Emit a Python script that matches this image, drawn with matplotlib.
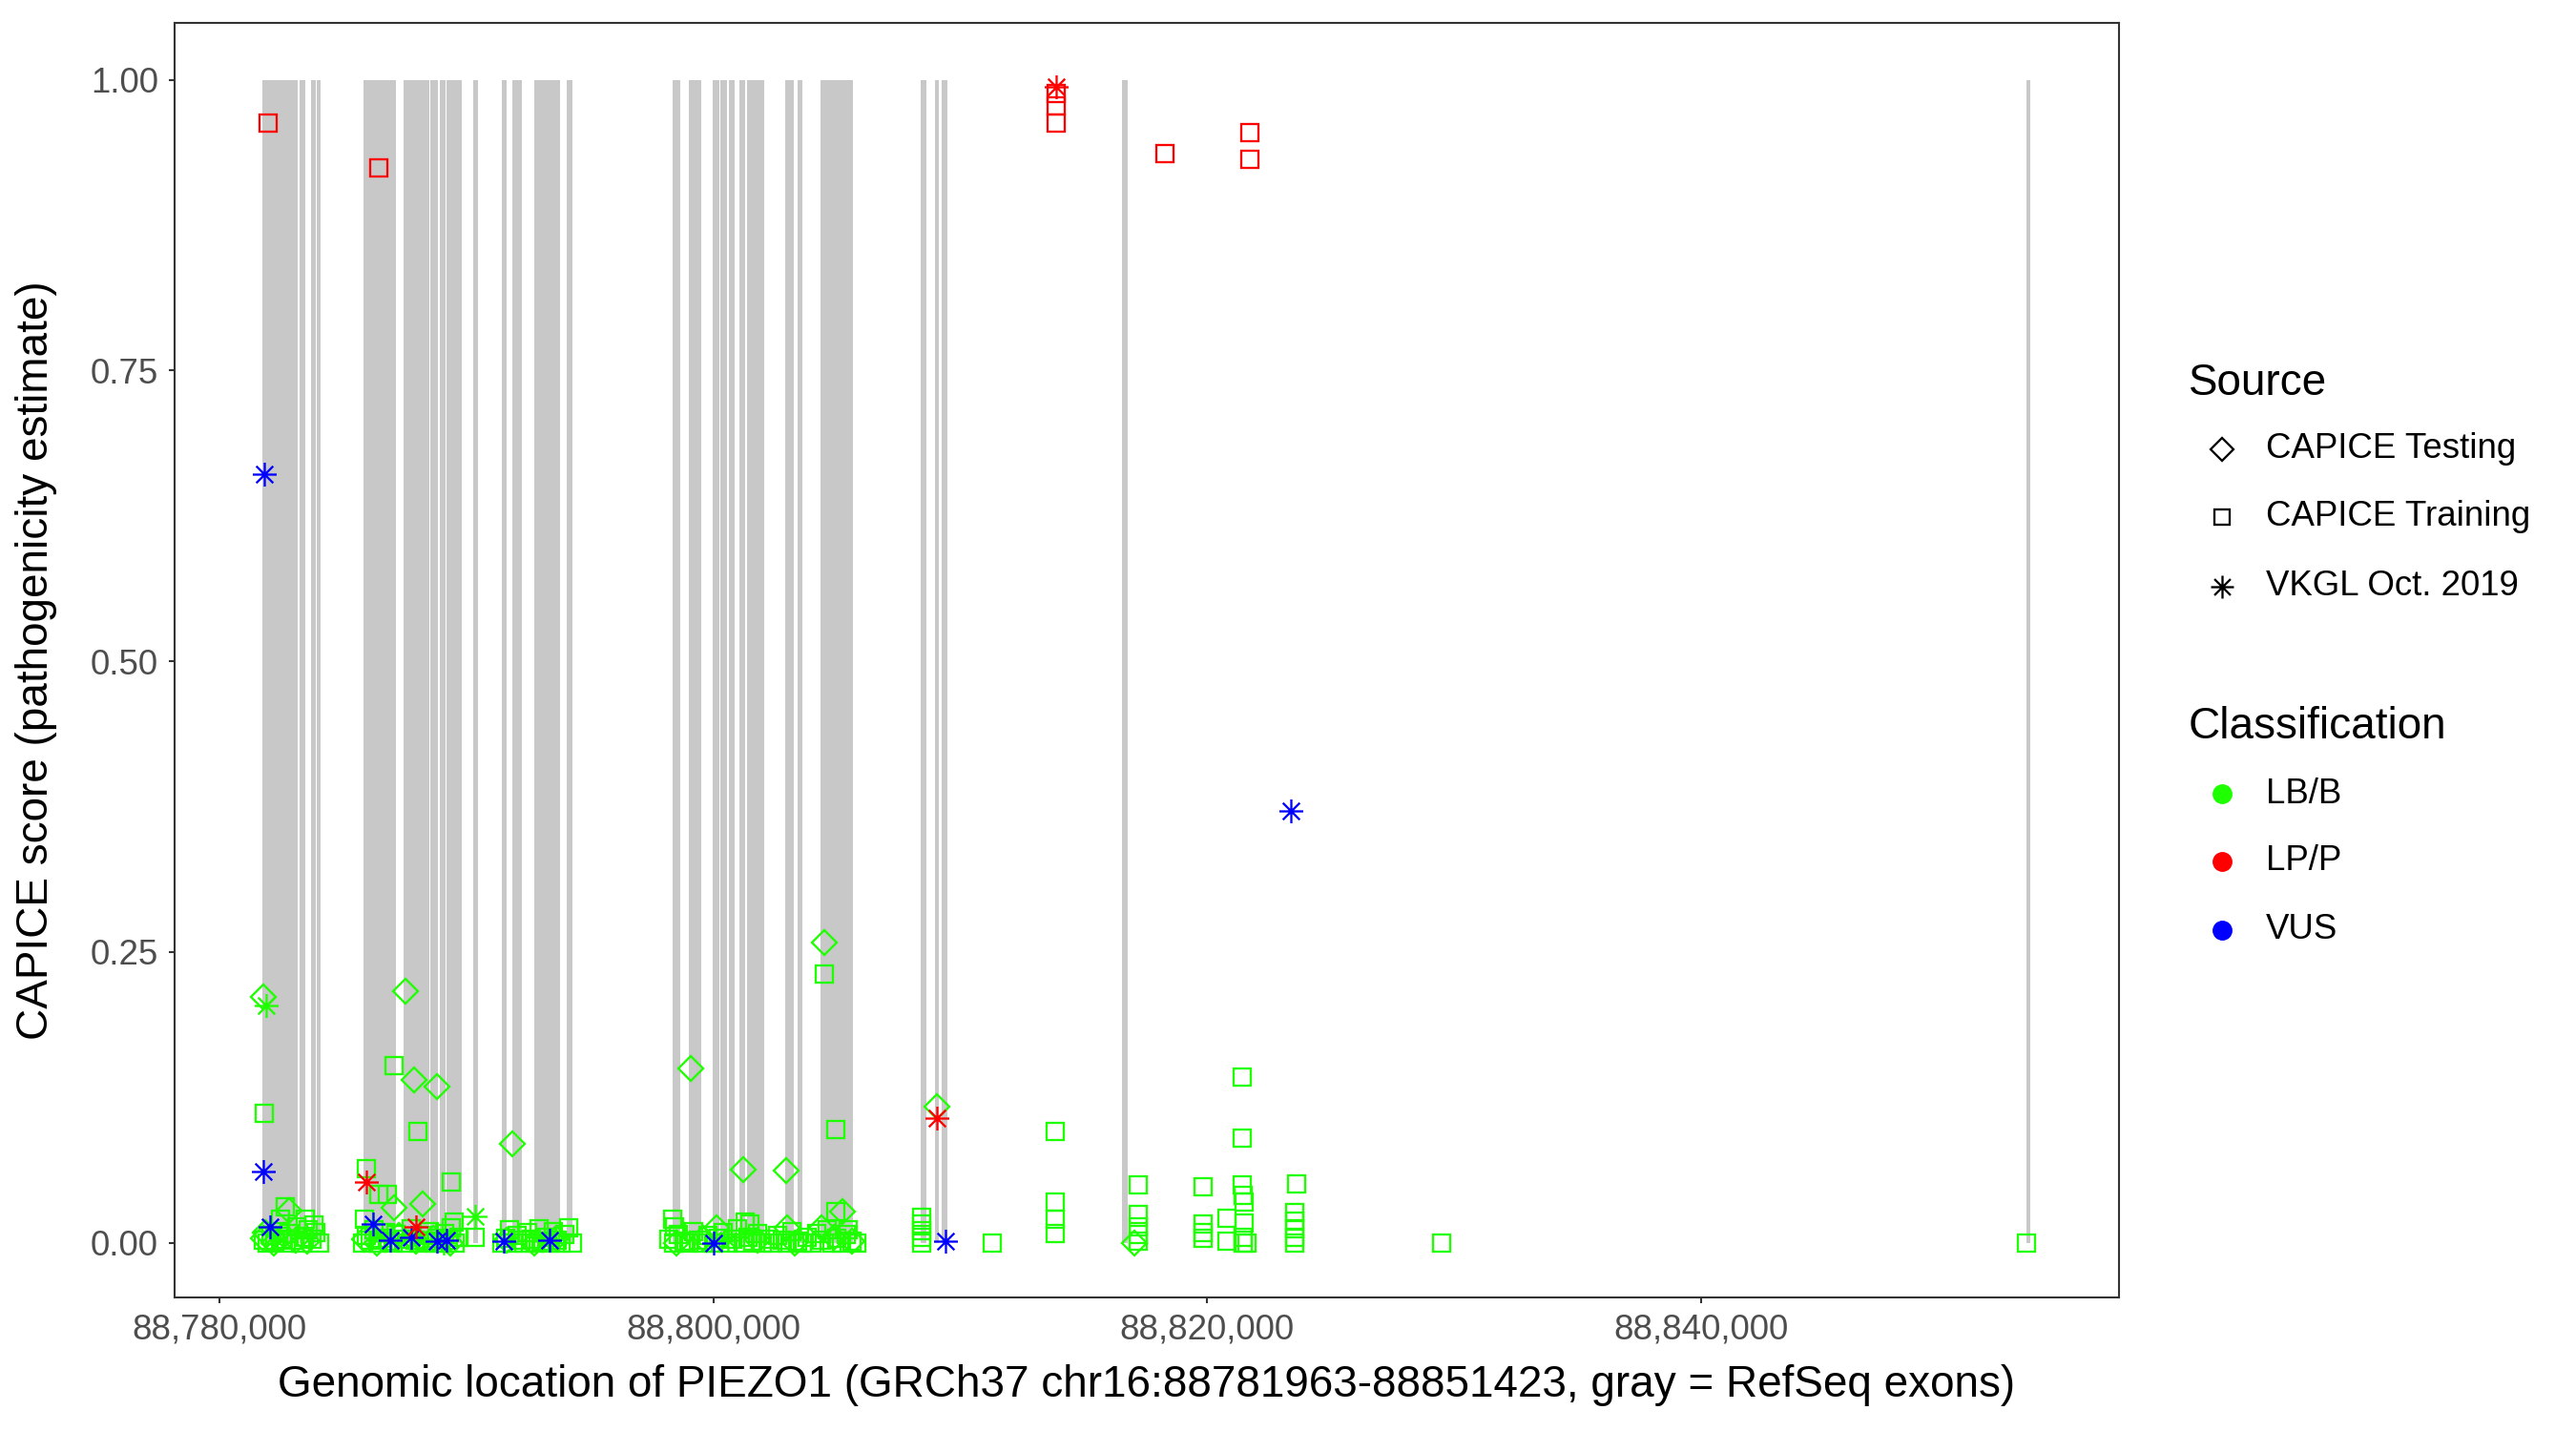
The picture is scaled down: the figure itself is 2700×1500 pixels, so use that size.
import numpy as np
import matplotlib
matplotlib.use("Agg")
import matplotlib.pyplot as plt
from matplotlib.path import Path
from matplotlib.lines import Line2D

plt.rcParams['font.family'] = ['Liberation Sans', 'DejaVu Sans']

# RefSeq exons (gray bands)
exon_start = [88781751, 88783236, 88783728, 88783961, 88785845, 88787465, 88788544,
              88788930, 88789200, 88790279, 88791437, 88791862, 88792747, 88794059,
              88798340, 88798995, 88799960, 88800268, 88800615, 88801078, 88801387,
              88802930, 88803432, 88804357, 88808407, 88808985, 88809255, 88816545,
              88853157]
exon_end = [88783185, 88783494, 88783919, 88784113, 88787156, 88788505, 88788853,
            88789161, 88789817, 88790472, 88791630, 88792248, 88793789, 88794290,
            88798648, 88799497, 88800229, 88800539, 88800847, 88801310, 88802081,
            88803277, 88803624, 88805669, 88808638, 88809140, 88809487, 88816777,
            88853336]

# CAPICE Training, LB/B
train_lb_x = [88781817, 88782687, 88782495, 88783465, 88783845,
              88781795, 88781945, 88782095, 88782245, 88782395, 88782545, 88782695,
              88782845, 88782995, 88783145, 88783295, 88783445, 88783595, 88783745,
              88783895, 88784045,
              88785963, 88786444, 88786804, 88787064, 88788056, 88789403, 88789507,
              88790350, 88785890,
              88785820, 88785970, 88786120, 88786270, 88786420, 88786570, 88786720,
              88786870, 88787020, 88787170, 88787470, 88787620, 88787770, 88787920,
              88788070, 88788220, 88788370, 88788520, 88788670, 88788820, 88788970,
              88789120, 88789270, 88789410, 88789560, 88789710,
              88791444, 88791594, 88791744, 88791894, 88792044, 88792194, 88792344,
              88792494, 88792644, 88792794, 88792944, 88793094, 88793244, 88793394,
              88793544, 88793694, 88793844, 88793994, 88794144, 88794294,
              88798360, 88798450, 88801290, 88801500, 88804479, 88804975, 88804975,
              88805478,
              88798200, 88798400, 88798600, 88798800, 88799000, 88799200, 88799400,
              88799600, 88799800, 88800000, 88800200, 88800400, 88800600, 88800800,
              88801000, 88801200, 88801400, 88801600, 88801800, 88802000, 88802200,
              88802400, 88802600, 88802800, 88803000, 88803200, 88803400, 88803600,
              88803800, 88804000, 88804200, 88804400, 88804600, 88804800, 88805000,
              88805200, 88805400, 88805600, 88805800,
              88808444, 88808444, 88808444, 88808444, 88808444,
              88811288,
              88813829, 88813829, 88813829, 88813829,
              88817190, 88817190, 88817190, 88817190, 88817190,
              88819823, 88819823, 88819823, 88819823,
              88820806, 88820806,
              88821403, 88821428, 88821428, 88821463, 88821503, 88821503, 88821453,
              88821453, 88821603,
              88823612, 88823523, 88823523, 88823523, 88823523, 88823523,
              88829503, 88853187]
train_lb_y = [0.111, 0.031, 0.020, 0.020, 0.015,
              0.002, 0.0, 0.006, 0.001, 0.010, 0.003, 0.0,
              0.008, 0.002, 0.014, 0.0, 0.005, 0.011, 0.003,
              0.009, 0.0,
              0.064, 0.042, 0.042, 0.152, 0.096, 0.052, 0.018,
              0.005, 0.020,
              0.0, 0.006, 0.002, 0.011, 0.0, 0.004, 0.009,
              0.001, 0.0, 0.007, 0.003, 0.0, 0.012, 0.002,
              0.0, 0.006, 0.001, 0.010, 0.0, 0.004, 0.0,
              0.008, 0.002, 0.013, 0.0, 0.005,
              0.0, 0.004, 0.011, 0.0, 0.006, 0.002, 0.0,
              0.009, 0.003, 0.0, 0.012, 0.001, 0.005, 0.0,
              0.010, 0.002, 0.0, 0.007, 0.013, 0.0,
              0.020, 0.014, 0.018, 0.016, 0.231, 0.0976, 0.027,
              0.011,
              0.003, 0.0, 0.007, 0.001, 0.0, 0.010, 0.002,
              0.0, 0.006, 0.0, 0.004, 0.009, 0.0, 0.003,
              0.012, 0.0, 0.005, 0.001, 0.008, 0.0, 0.003,
              0.0, 0.006, 0.002, 0.0, 0.010, 0.001, 0.0,
              0.005, 0.0, 0.008, 0.002, 0.011, 0.0, 0.004,
              0.0, 0.007, 0.001, 0.0,
              0.0216, 0.016, 0.0107, 0.005, 0.0,
              0.0,
              0.0954, 0.035, 0.020, 0.008,
              0.050, 0.024, 0.014, 0.007, 0.001,
              0.048, 0.016, 0.009, 0.004,
              0.021, 0.001,
              0.1425, 0.090, 0.0495, 0.041, 0.035, 0.017, 0.005,
              0.0, 0.0,
              0.051, 0.026, 0.019, 0.012, 0.005, 0.0,
              0.0, 0.0]

# CAPICE Testing, LB/B
test_lb_x = [88781790, 88782825, 88781775, 88782195, 88782645, 88783095, 88783545,
             88781875,
             88787552, 88787901, 88788806, 88787064, 88788226, 88785870, 88786370,
             88787270, 88787970, 88788670, 88789360,
             88791883, 88791644, 88792744, 88793644,
             88799071, 88801219, 88802971, 88804486, 88805223, 88800137, 88802974,
             88804370, 88798500, 88799600, 88801800, 88803300, 88804900, 88805600,
             88809048, 88817042]
test_lb_y = [0.2115, 0.028, 0.004, 0.0, 0.006, 0.002, 0.001,
             0.009,
             0.216, 0.140, 0.134, 0.030, 0.033, 0.003, 0.0,
             0.006, 0.001, 0.004, 0.0,
             0.085, 0.002, 0.0, 0.004,
             0.150, 0.063, 0.062, 0.258, 0.027, 0.013, 0.013,
             0.013, 0.0, 0.004, 0.002, 0.0, 0.005, 0.001,
             0.117, 0.0]

# CAPICE Training, LP/P
train_lp_x = [88781995, 88786470, 88813884, 88813884, 88813884, 88818298, 88821718,
              88821718]
train_lp_y = [0.963, 0.924, 0.988, 0.978, 0.963, 0.937, 0.955, 0.932]

# VKGL Oct. 2019
vkgl_lb_x = [88781918, 88790348, 88786950, 88788070, 88789068, 88793444, 88800600]
vkgl_lb_y = [0.204, 0.023, 0.004, 0.002, 0.0, 0.003, 0.002]
vkgl_lp_x = [88785963, 88787967, 88809049, 88813884]
vkgl_lp_y = [0.052, 0.014, 0.107, 0.994]
vkgl_vus_x = [88781805, 88781790, 88782062, 88786223, 88786920, 88787773, 88788818,
              88789200, 88791507, 88793367, 88800035, 88809411, 88823393]
vkgl_vus_y = [0.661, 0.061, 0.014, 0.016, 0.0025, 0.005, 0.001,
              0.0025, 0.001, 0.002, 0.0, 0.001, 0.371]

x_ticks = [88780000, 88800000, 88820000, 88840000]
y_ticks = [0.0, 0.25, 0.5, 0.75, 1.0]

GREEN, RED, BLUE = "#1EFF00", "#FF0000", "#0000FF"
d = 0.7071
STAR = Path([(0, -1), (0, 1), (-1, 0), (1, 0), (-d, -d), (d, d), (-d, d), (d, -d)],
            [Path.MOVETO, Path.LINETO] * 4)

W, H = 2700, 1500
fig = plt.figure(figsize=(18, 10), dpi=150)
L, R, T, B = 182.5, 2221, 24, 1360
ax = fig.add_axes([L / W, 1 - B / H, (R - L) / W, (B - T) / H])

ax.broken_barh([(s, e - s) for s, e in zip(exon_start, exon_end)], (0, 1),
               facecolors="#C8C8C8", edgecolor="none", zorder=1)

mk = dict(ls="none", mfc="none", mew=1.1, zorder=3)
ax.plot(train_lb_x, train_lb_y, marker="s", ms=8.5, mec=GREEN, **mk)
ax.plot(test_lb_x, test_lb_y, marker="D", ms=8.5, mec=GREEN, **mk)
ax.plot(vkgl_lb_x, vkgl_lb_y, marker=STAR, ms=12, mec=GREEN, **mk)
ax.plot(vkgl_vus_x, vkgl_vus_y, marker=STAR, ms=12, mec=BLUE, **mk)
ax.plot(train_lp_x, train_lp_y, marker="s", ms=8.5, mec=RED, **mk)
ax.plot(vkgl_lp_x, vkgl_lp_y, marker=STAR, ms=12, mec=RED, **mk)

xmin, xmax = min(exon_start), max(exon_end)
pad = 0.05 * (xmax - xmin)
ax.set_xlim(xmin - pad, xmax + pad)
ax.set_ylim(-0.047, 1.049)
ax.set_xticks(x_ticks)
ax.set_xticklabels([f"{v:,}" for v in x_ticks])
ax.set_yticks(y_ticks)
ax.set_yticklabels([f"{v:.2f}" for v in y_ticks])
ax.tick_params(direction="out", length=3, width=1.0, color="#333333",
               labelcolor="#4D4D4D", labelsize=17.6)
ax.tick_params(axis="x", pad=5)
ax.tick_params(axis="y", pad=5)
for sp in ax.spines.values():
    sp.set_color("#333333")
    sp.set_linewidth(1.0)

fig.text(1202 / W, 1 - 1452 / H,
         "Genomic location of PIEZO1 (GRCh37 chr16:88781963-88851423, gray = RefSeq exons)",
         ha="center", va="center", fontsize=22)
fig.text(38 / W, 1 - 692 / H, "CAPICE score (pathogenicity estimate)",
         ha="center", va="center", rotation=90, fontsize=22)

# legends
def fx(px):
    return px / W


def fy(py):
    return 1 - py / H


fig.text(fx(2294), fy(402), "Source", ha="left", va="center", fontsize=22)
src = [("CAPICE Testing", "D", 8, 471), ("CAPICE Training", "s", 8, 542),
       ("VKGL Oct. 2019", STAR, 11.5, 615)]
for lab, m, s, py in src:
    fig.add_artist(Line2D([fx(2329)], [fy(py)], transform=fig.transFigure, marker=m,
                          ms=s, mfc="none", mec="black", mew=1.1, ls="none"))
    fig.text(fx(2375), fy(py), lab, ha="left", va="center", fontsize=17.6)

fig.text(fx(2294), fy(762), "Classification", ha="left", va="center", fontsize=22)
cls = [("LB/B", GREEN, 832), ("LP/P", RED, 903), ("VUS", BLUE, 975)]
for lab, c, py in cls:
    fig.add_artist(Line2D([fx(2329)], [fy(py)], transform=fig.transFigure, marker="o",
                          ms=9, mfc=c, mec=c, ls="none"))
    fig.text(fx(2375), fy(py), lab, ha="left", va="center", fontsize=17.6)

fig.savefig("out.png", dpi=150)
